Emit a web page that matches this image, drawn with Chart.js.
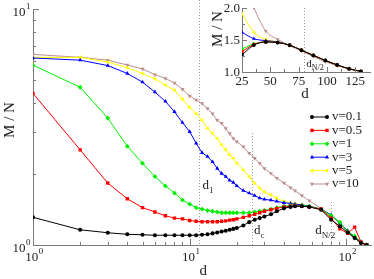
<!DOCTYPE html>
<html>
<head>
<meta charset="utf-8">
<script src="https://cdn.jsdelivr.net/npm/chart.js@4.4.1/dist/chart.umd.min.js"></script>
<style>
  html, body { margin: 0; padding: 0; background: #fff; }
  #wrap { position: relative; width: 374px; height: 279px; }
  #main { position: absolute; left: 0; top: 0; }
  #inset { position: absolute; left: 200px; top: 0; }
</style>
</head>
<body>
<div id="wrap">
  <canvas id="main" width="374" height="279"></canvas>
  <canvas id="inset" width="174" height="105"></canvas>
</div>
<script>
// distances d (main plot)
const dMain = [1, 2, 3, 4, 5, 6, 7, 8, 9, 10,
  11, 12, 13, 14, 15, 16, 17, 18, 19, 20,
  22, 24, 26, 28, 30, 33, 36, 40, 44, 47,
  52, 58, 69, 80, 91, 102, 113, 124, 135];

const mV01 = [1.31, 1.16, 1.127, 1.11, 1.105, 1.10, 1.10, 1.10, 1.10, 1.10,
  1.10, 1.105, 1.11, 1.12, 1.13, 1.14, 1.15, 1.16, 1.17, 1.18,
  1.21, 1.25, 1.28, 1.30, 1.32, 1.35, 1.39, 1.43, 1.45, 1.46,
  1.46, 1.45, 1.41, 1.28, 1.20, 1.13, 1.07, 1.02, 1.0];
const mV05 = [4.39, 2.53, 1.83, 1.57, 1.44, 1.38, 1.33, 1.30, 1.29, 1.27,
  1.26, 1.255, 1.255, 1.255, 1.255, 1.26, 1.265, 1.275, 1.28, 1.29,
  1.31, 1.33, 1.35, 1.37, 1.39, 1.41, 1.43, 1.45, 1.46, 1.465,
  1.46, 1.45, 1.42, 1.30, 1.17, 1.12, 1.19, 1.03, 1.0];
const mV1 = [5.78, 4.66, 3.45, 2.62, 2.22, 1.95, 1.78, 1.66, 1.55, 1.49,
  1.44, 1.42, 1.40, 1.39, 1.38, 1.37, 1.37, 1.37, 1.37, 1.37,
  1.37, 1.37, 1.38, 1.39, 1.40, 1.42, 1.44, 1.46, 1.47, 1.47,
  1.47, 1.46, 1.42, 1.33, 1.25, 1.14, 1.09, 1.03, 1.0];
const mV3 = [6.2, 6.07, 5.76, 5.33, 4.9, 4.45, 4.06, 3.67, 3.3, 3.02,
  2.70, 2.46, 2.37, 2.25, 2.11, 2.01, 1.95, 1.88, 1.84, 1.78,
  1.70, 1.66, 1.62, 1.58, 1.56, 1.55, 1.53, 1.51, 1.50, 1.49,
  1.48, 1.46, 1.42, 1.34, 1.24, 1.15, 1.08, 1.03, 1.0];
const mV5 = [6.24, 6.24, 5.96, 5.64, 5.33, 5.06, 4.76, 4.53, 4.15, 3.83,
  3.6, 3.38, 3.12, 2.97, 2.83, 2.65, 2.53, 2.41, 2.33, 2.22,
  2.08, 1.95, 1.83, 1.74, 1.68, 1.63, 1.58, 1.53, 1.51, 1.50,
  1.48, 1.46, 1.41, 1.33, 1.24, 1.15, 1.08, 1.03, 1.0];
const mV10 = [6.42, 6.24, 6.07, 5.79, 5.57, 5.27, 5.08, 4.86, 4.57, 4.28,
  4.12, 3.98, 3.79, 3.6, 3.38, 3.28, 3.12, 2.97, 2.83, 2.74,
  2.61, 2.45, 2.33, 2.22, 2.11, 2.01, 1.92, 1.83, 1.75, 1.70,
  1.62, 1.54, 1.43, 1.33, 1.23, 1.14, 1.07, 1.02, 1.0];

// inset (linear axes)
const dInset = [25, 35.5, 46, 56.5, 67, 77.5, 88, 98.5, 109, 119.5, 130];
const iV01 = [1.27, 1.42, 1.47, 1.46, 1.42, 1.34, 1.26, 1.18, 1.11, 1.05, 1.01];
const iV05 = [1.32, 1.43, 1.47, 1.46, 1.42, 1.34, 1.26, 1.18, 1.11, 1.05, 1.01];
const iV1 = [1.36, 1.44, 1.47, 1.46, 1.42, 1.34, 1.26, 1.18, 1.11, 1.05, 1.01];
const iV3 = [1.62, 1.52, 1.49, 1.47, 1.42, 1.34, 1.26, 1.18, 1.11, 1.05, 1.01];
const iV5 = [1.91, 1.62, 1.51, 1.47, 1.42, 1.34, 1.26, 1.18, 1.11, 1.05, 1.01];
const iV10 = [2.4, 2.0, 1.64, 1.51, 1.41, 1.33, 1.24, 1.16, 1.10, 1.05, 1.01];

const seriesNames = ['v=0.1', 'v=0.5', 'v=1', 'v=3', 'v=5', 'v=10'];
const seriesColors = ['#000000', '#ff0000', '#00ee00', '#0000ff', '#ffff00', '#bc8f8f'];
const seriesShapes = ['circle', 'rect', 'rectRot', 'triangle', 'triangle', 'triangle'];
const seriesRot = [0, 0, 0, 0, 270, 180];

// tick marks
const mainXMajor = [1, 10, 100];
const mainXMinor = [2, 3, 4, 5, 6, 7, 8, 9, 20, 30, 40, 50, 60, 70, 80, 90];
const mainYMajor = [1, 10];
const mainYMinor = [2, 3, 4, 5, 6, 7, 8, 9];
const insetXMajor = [25, 50, 75, 100, 125];
const insetXMinor = [37.5, 62.5, 87.5, 112.5];
const insetYMajor = [1.0, 1.5, 2.0];
const insetYMinor = [1.25, 1.75];

// marked distances
const dMarks = [
  { v: 11.4, label: 'd', sub: '1', from: null, lx: 2, ly: -57 },
  { v: 25, label: 'd', sub: 'c', from: 133, lx: 0, ly: -12 },
  { v: 80, label: 'd', sub: 'N/2', from: 202, lx: -18, ly: -12 }
];
const dHalf = 80;

const AXIS = '#7a7a7a';
const TXT = '#222';
const FONT = '"Liberation Serif", "DejaVu Serif", serif';

function ds(xs, ys, i, r) {
  return {
    label: seriesNames[i],
    data: xs.map((x, k) => ({ x: x, y: ys[k] })),
    borderColor: seriesColors[i],
    backgroundColor: seriesColors[i],
    borderWidth: 1,
    pointStyle: seriesShapes[i],
    rotation: seriesRot[i],
    pointRadius: seriesShapes[i] === 'circle' ? r * 0.85 : r,
    pointBorderWidth: 0,
    pointHoverRadius: r
  };
}

function line(ctx, x1, y1, x2, y2) {
  ctx.beginPath(); ctx.moveTo(x1, y1); ctx.lineTo(x2, y2); ctx.stroke();
}

function powLabel(ctx, exp, cx, cy, align) {
  ctx.font = '13px ' + FONT;
  const w1 = ctx.measureText('10').width;
  ctx.font = '9px ' + FONT;
  const w2 = ctx.measureText(exp).width;
  let x0 = align === 'right' ? cx - w1 - w2 : cx - (w1 + w2) / 2;
  ctx.fillStyle = TXT;
  ctx.textAlign = 'left';
  ctx.textBaseline = 'middle';
  ctx.font = '13px ' + FONT;
  ctx.fillText('10', x0, cy);
  ctx.font = '9px ' + FONT;
  ctx.fillText(exp, x0 + w1 + 0.5, cy - 6);
}

function subLabel(ctx, main, sub, x, y, size) {
  ctx.fillStyle = TXT;
  ctx.textAlign = 'left';
  ctx.textBaseline = 'middle';
  ctx.font = size + 'px ' + FONT;
  ctx.fillText(main, x, y);
  const w = ctx.measureText(main).width;
  ctx.font = Math.round(size * 0.7) + 'px ' + FONT;
  ctx.fillText(sub, x + w, y + size * 0.35);
}

function drawTicks(chart, xs, ys, xMaj, xMin, yMaj, yMin, lenMaj, lenMin) {
  const { ctx, chartArea: a } = chart;
  ctx.strokeStyle = AXIS;
  ctx.lineWidth = 1;
  xMaj.concat(xMin).forEach(v => {
    const len = xMaj.includes(v) ? lenMaj : lenMin;
    const p = Math.round(xs.getPixelForValue(v)) + 0.5;
    line(ctx, p, a.bottom, p, a.bottom - len);
  });
  yMaj.concat(yMin).forEach(v => {
    const len = yMaj.includes(v) ? lenMaj : lenMin;
    const p = Math.round(ys.getPixelForValue(v)) + 0.5;
    line(ctx, a.left, p, a.left + len, p);
  });
}

const mainDeco = {
  id: 'mainDeco',
  beforeDatasetsDraw(chart) {
    const { ctx, chartArea: a, scales: { x, y } } = chart;
    ctx.save();
    ctx.strokeStyle = '#999';
    ctx.lineWidth = 1;
    ctx.setLineDash([1, 2]);
    dMarks.forEach(m => {
      const p = Math.round(x.getPixelForValue(m.v)) + 0.5;
      line(ctx, p, m.from === null ? 0 : m.from, p, a.bottom);
    });
    ctx.restore();
  },
  afterDraw(chart) {
    const { ctx, chartArea: a, scales: { x, y } } = chart;
    ctx.save();
    drawTicks(chart, x, y, mainXMajor, mainXMinor, mainYMajor, mainYMinor, 6, 3);
    // tick labels
    mainXMajor.forEach((v, i) => powLabel(ctx, String(i), x.getPixelForValue(v) + 1, a.bottom + 13, 'center'));
    mainYMajor.forEach((v, i) => powLabel(ctx, String(i), a.left - 3, y.getPixelForValue(v) + 4, 'right'));
    // axis titles
    ctx.fillStyle = TXT;
    ctx.font = '15px ' + FONT;
    ctx.textAlign = 'center';
    ctx.textBaseline = 'middle';
    ctx.fillText('d', (a.left + a.right) / 2 + 1, 271);
    ctx.save();
    ctx.translate(10, 120);
    ctx.rotate(-Math.PI / 2);
    ctx.fillText('M / N', 0, 0);
    ctx.restore();
    // d marks labels
    dMarks.forEach(m => {
      const p = x.getPixelForValue(m.v);
      subLabel(ctx, m.label, m.sub, p + m.lx + 2, a.bottom + m.ly - 2, 13);
    });
    // legend
    chart.data.datasets.forEach((d, i) => {
      const yy = 117 + i * 13.4;
      ctx.strokeStyle = d.borderColor;
      ctx.lineWidth = 1;
      line(ctx, 312, yy, 327, yy);
      ctx.fillStyle = d.backgroundColor;
      Chart.helpers.drawPoint(ctx, {
        pointStyle: d.pointStyle, rotation: d.rotation,
        radius: d.pointRadius, borderWidth: 0
      }, 312, yy);
      Chart.helpers.drawPoint(ctx, {
        pointStyle: d.pointStyle, rotation: d.rotation,
        radius: d.pointRadius, borderWidth: 0
      }, 327, yy);
      ctx.fillStyle = TXT;
      ctx.font = '13px ' + FONT;
      ctx.textAlign = 'left';
      ctx.textBaseline = 'middle';
      ctx.fillText(d.label, 332, yy);
    });
    ctx.restore();
  }
};

const insetDeco = {
  id: 'insetDeco',
  beforeDatasetsDraw(chart) {
    const { ctx, chartArea: a, scales: { x } } = chart;
    ctx.save();
    ctx.strokeStyle = '#999';
    ctx.lineWidth = 1;
    ctx.setLineDash([1, 2]);
    const p = Math.round(x.getPixelForValue(dHalf)) + 0.5;
    line(ctx, p, a.top, p, a.bottom);
    ctx.restore();
  },
  afterDraw(chart) {
    const { ctx, chartArea: a, scales: { x, y } } = chart;
    ctx.save();
    drawTicks(chart, x, y, insetXMajor, insetXMinor, insetYMajor, insetYMinor, 5, 3);
    ctx.fillStyle = TXT;
    ctx.font = '13px ' + FONT;
    ctx.textBaseline = 'middle';
    ctx.textAlign = 'center';
    insetXMajor.forEach(v => ctx.fillText(String(v), x.getPixelForValue(v), a.bottom + 10));
    ctx.textAlign = 'right';
    insetYMajor.forEach(v => ctx.fillText(v.toFixed(1), a.left - 2, y.getPixelForValue(v) + 1));
    ctx.font = '15px ' + FONT;
    ctx.textAlign = 'center';
    ctx.fillText('d', 105, 94);
    ctx.save();
    ctx.translate(18, 29);
    ctx.rotate(-Math.PI / 2);
    ctx.fillText('M / N', 0, 0);
    ctx.restore();
    subLabel(ctx, 'd', 'N/2', x.getPixelForValue(dHalf) + 2, a.bottom - 8, 11);
    ctx.restore();
  }
};

const commonScale = (type, min, max, size, isX) => ({
  type: type, min: min, max: max,
  ticks: { display: false },
  grid: { display: false, drawTicks: false },
  border: { display: true, color: AXIS, width: 1 },
  afterFit(s) { if (isX) s.height = size; else s.width = size; }
});

new Chart(document.getElementById('main'), {
  type: 'line',
  data: {
    datasets: [mV01, mV05, mV1, mV3, mV5, mV10].map((ys, i) => ds(dMain, ys, i, 2.4))
  },
  options: {
    responsive: false,
    animation: false,
    layout: { padding: { top: 9, right: 2, left: 0, bottom: 0 } },
    plugins: { legend: { display: false }, tooltip: { enabled: false } },
    scales: {
      x: commonScale('logarithmic', 1, 145, 34, true),
      y: commonScale('logarithmic', 1, 10, 33, false)
    }
  },
  plugins: [mainDeco]
});

new Chart(document.getElementById('inset'), {
  type: 'line',
  data: {
    datasets: [iV01, iV05, iV1, iV3, iV5, iV10].map((ys, i) => {
      const o = ds(dInset, ys, i, 2.2);
      o.tension = 0.4;
      o.cubicInterpolationMode = 'monotone';
      return o;
    })
  },
  options: {
    responsive: false,
    animation: false,
    layout: { padding: { top: 8, right: 4, left: 0, bottom: 0 } },
    plugins: { legend: { display: false }, tooltip: { enabled: false } },
    scales: {
      x: commonScale('linear', 25, 138, 33, true),
      y: commonScale('linear', 1, 2, 42, false)
    }
  },
  plugins: [insetDeco]
});
</script>
</body>
</html>
